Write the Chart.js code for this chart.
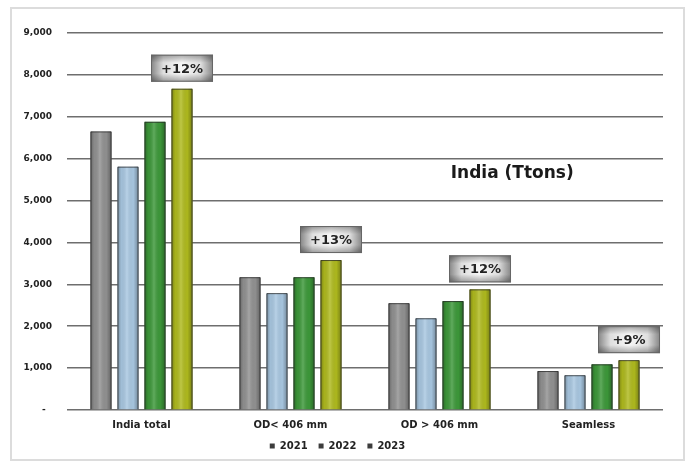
<!DOCTYPE html>
<html>
<head>
<meta charset="utf-8">
<script src="https://cdn.jsdelivr.net/npm/chart.js@4.4.1/dist/chart.umd.min.js"></script>
<style>
  html, body { margin: 0; padding: 0; background: #ffffff; }
  #frame { position: absolute; left: 10px; top: 7px; width: 671px; height: 450px; border: 2px solid #dcdcdc; background: #ffffff; }
  #wrap { position: absolute; left: 0; top: 0; width: 671px; height: 452px; }
</style>
</head>
<body>
<div id="frame"><div id="wrap"><canvas id="c"></canvas></div></div>
<script>
const categories = ["India total", "OD< 406 mm", "OD > 406 mm", "Seamless"];
const seriesLabels = ["2020", "2021", "2022", "2023"];
const s2020 = [6650, 3170, 2550, 930];
const s2021 = [5810, 2790, 2190, 830];
const s2022 = [6880, 3170, 2600, 1090];
const s2023 = [7670, 3580, 2880, 1190];
const growthLabels = ["+12%", "+13%", "+12%", "+9%"];
const chartTitle = "India (Ttons)";
const yTicksMax = 9000;
const yTickStep = 1000;

const colors = ["#929292", "#a9c8e2", "#3d993a", "#b0bb1e"];

const FONT = "'DejaVu Sans', Verdana, sans-serif";

const barShade = {
  id: 'barShade',
  afterDatasetsDraw(chart) {
    const ctx = chart.ctx;
    chart.data.datasets.forEach((ds, di) => {
      const meta = chart.getDatasetMeta(di);
      meta.data.forEach((bar) => {
        const w = bar.width, x0 = bar.x - w / 2, x1 = bar.x + w / 2;
        const top = bar.y, bottom = bar.base;
        const g = ctx.createLinearGradient(x0, 0, x1, 0);
        g.addColorStop(0, 'rgba(0,0,0,0.30)');
        g.addColorStop(0.18, 'rgba(0,0,0,0.05)');
        g.addColorStop(0.45, 'rgba(255,255,255,0.18)');
        g.addColorStop(0.75, 'rgba(0,0,0,0.02)');
        g.addColorStop(1, 'rgba(0,0,0,0.32)');
        ctx.save();
        ctx.fillStyle = g;
        ctx.fillRect(x0, top, w, bottom - top);
        ctx.strokeStyle = 'rgba(40,40,40,0.75)';
        ctx.lineWidth = 1;
        ctx.beginPath();
        ctx.moveTo(x0 + 0.5, bottom);
        ctx.lineTo(x0 + 0.5, top + 0.5);
        ctx.lineTo(x1 - 0.5, top + 0.5);
        ctx.lineTo(x1 - 0.5, bottom);
        ctx.stroke();
        ctx.restore();
      });
    });
  }
};

const overlays = {
  id: 'overlays',
  afterDraw(chart) {
    const ctx = chart.ctx;
    const area = chart.chartArea;
    const last = chart.getDatasetMeta(chart.data.datasets.length - 1);
    growthLabels.forEach((txt, i) => {
      const bar = last.data[i];
      if (!bar) return;
      const bw = 62, bh = 27;
      let cx = bar.x;
      const bx = cx - bw / 2;
      const by = bar.y - 7 - bh;
      ctx.save();
      const gh = ctx.createLinearGradient(bx, 0, bx + bw, 0);
      gh.addColorStop(0, '#858585');
      gh.addColorStop(0.2, '#dedede');
      gh.addColorStop(0.5, '#f6f6f6');
      gh.addColorStop(0.8, '#dedede');
      gh.addColorStop(1, '#858585');
      ctx.fillStyle = gh;
      ctx.fillRect(bx, by, bw, bh);
      const gv = ctx.createLinearGradient(0, by, 0, by + bh);
      gv.addColorStop(0, 'rgba(0,0,0,0.32)');
      gv.addColorStop(0.3, 'rgba(0,0,0,0)');
      gv.addColorStop(0.7, 'rgba(0,0,0,0)');
      gv.addColorStop(1, 'rgba(0,0,0,0.32)');
      ctx.fillStyle = gv;
      ctx.fillRect(bx, by, bw, bh);
      ctx.strokeStyle = '#666';
      ctx.lineWidth = 1;
      ctx.strokeRect(bx + 0.5, by + 0.5, bw - 1, bh - 1);
      ctx.font = "bold 13px " + FONT;
      ctx.fillStyle = '#222';
      ctx.textAlign = 'center';
      ctx.textBaseline = 'middle';
      ctx.fillText(txt, cx, by + bh / 2 + 1);
      ctx.restore();
    });
    const xs = area.left + (area.right - area.left) * 0.747;
    const ys = chart.scales.y.getPixelForValue(5650);
    ctx.save();
    ctx.font = "bold 17px " + FONT;
    ctx.fillStyle = '#1a1a1a';
    ctx.textAlign = 'center';
    ctx.textBaseline = 'middle';
    ctx.fillText(chartTitle, xs, ys);
    ctx.restore();
  }
};

const allSeries = [s2020, s2021, s2022, s2023];

new Chart(document.getElementById('c'), {
  type: 'bar',
  data: {
    labels: categories,
    datasets: allSeries.map((vals, i) => ({
      label: seriesLabels[i],
      data: vals,
      backgroundColor: colors[i],
      borderWidth: 0,
      categoryPercentage: 0.725,
      barPercentage: 0.78
    }))
  },
  options: {
    responsive: true,
    maintainAspectRatio: false,
    animation: false,
    layout: { padding: { top: 24, right: 20, bottom: 0, left: 0 } },
    plugins: {
      tooltip: { enabled: false },
      legend: {
        position: 'bottom',
        labels: {
          filter: (item) => item.datasetIndex > 0,
          generateLabels: (chart) => {
            const items = Chart.defaults.plugins.legend.labels.generateLabels(chart);
            items.forEach(it => { it.fillStyle = '#3c3c3c'; it.strokeStyle = '#3c3c3c'; it.lineWidth = 0; });
            return items;
          },
          boxWidth: 5,
          boxHeight: 5,
          padding: 11,
          color: '#222',
          font: { family: FONT, size: 10, weight: 'bold' }
        }
      }
    },
    scales: {
      x: {
        afterFit(scale) { scale.height = scale.height - 10; },
        grid: { display: false, drawTicks: false },
        border: { display: false },
        ticks: { padding: 9, color: '#222', font: { family: FONT, size: 10, weight: 'bold' } }
      },
      y: {
        min: 0,
        max: yTicksMax,
        afterFit(scale) { scale.width = 55; },
        grid: { color: '#6e6e6e', lineWidth: 1.5, drawTicks: false },
        border: { display: false },
        ticks: {
          stepSize: yTickStep,
          padding: 15,
          color: '#222',
          font: { family: FONT, size: 9, weight: 'bold' },
          callback: (v) => v === 0 ? '-  ' : v.toLocaleString('en-US')
        }
      }
    }
  },
  plugins: [barShade, overlays]
});
</script>
</body>
</html>
